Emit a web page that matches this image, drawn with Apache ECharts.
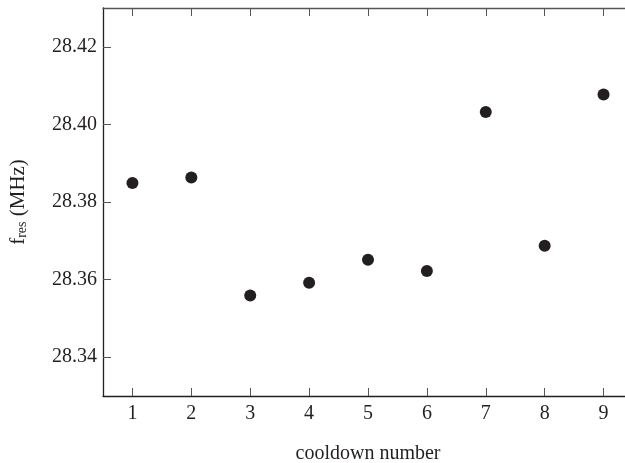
<!DOCTYPE html>
<html>
<head>
<meta charset="utf-8">
<script src="https://cdn.jsdelivr.net/npm/echarts@6/dist/echarts.min.js"></script>
<style>html,body{margin:0;padding:0;background:#fff}#c{width:625px;height:463px}</style>
</head>
<body>
<div id="c"></div>
<script>
const cooldowns = [1, 2, 3, 4, 5, 6, 7, 8, 9];
const fres = [28.3849, 28.3863, 28.3559, 28.3592, 28.3651, 28.3622, 28.4032, 28.3687, 28.4077];
const yTicks = [28.34, 28.36, 28.38, 28.40, 28.42];
const xTicks = [1, 2, 3, 4, 5, 6, 7, 8, 9];

const FONT = '"Liberation Serif", "Times New Roman", serif';
const INK = '#231f20';
const chart = echarts.init(document.getElementById('c'));
chart.setOption({
  animation: false,
  backgroundColor: '#fff',
  grid: { left: 103, right: -8, top: 8, bottom: 67, containLabel: false, outerBoundsMode: 'none' },
  xAxis: [{
    type: 'value', min: 0.5, max: 9.5, position: 'bottom',
    name: 'cooldown number', nameLocation: 'middle', nameGap: 48,
    nameTextStyle: { fontFamily: FONT, fontSize: 20, color: INK },
    axisLine: { show: true, onZero: false, lineStyle: { color: INK, width: 1.3 } },
    axisTick: { show: true, inside: true, length: 8, customValues: xTicks, lineStyle: { color: '#555', width: 1 } },
    axisLabel: { show: true, customValues: xTicks, margin: 8, fontFamily: FONT, fontSize: 20, color: INK },
    splitLine: { show: false }
  }, {
    type: 'value', min: 0.5, max: 9.5, position: 'top',
    axisLine: { show: true, onZero: false, lineStyle: { color: '#555', width: 1.3 } },
    axisTick: { show: true, inside: true, length: 8, customValues: xTicks, lineStyle: { color: '#555', width: 1 } },
    axisLabel: { show: false },
    splitLine: { show: false }
  }],
  yAxis: {
    type: 'value', min: 28.33, max: 28.43,
    name: '{a|f}{b|res}{a| (MHz)}', nameLocation: 'middle', nameGap: 74,
    nameTextStyle: {
      fontFamily: FONT, fontSize: 20, color: INK,
      rich: {
        a: { fontFamily: FONT, fontSize: 21, color: INK, verticalAlign: 'bottom', lineHeight: 24 },
        b: { fontFamily: FONT, fontSize: 14, color: INK, verticalAlign: 'bottom', lineHeight: 24, padding: [10, 0, 0, 0] }
      }
    },
    axisLine: { show: true, onZero: false, lineStyle: { color: INK, width: 1.3 } },
    axisTick: { show: true, inside: true, length: 8, customValues: yTicks, lineStyle: { color: '#555', width: 1 } },
    axisLabel: { show: true, customValues: yTicks, margin: 6, fontFamily: FONT, fontSize: 20, color: INK,
      formatter: v => v.toFixed(2) },
    splitLine: { show: false }
  },
  series: [{
    type: 'scatter',
    data: cooldowns.map((c, i) => [c, fres[i]]),
    symbol: 'circle', symbolSize: 12,
    itemStyle: { color: INK, opacity: 1 }
  }]
});
</script>
</body>
</html>
